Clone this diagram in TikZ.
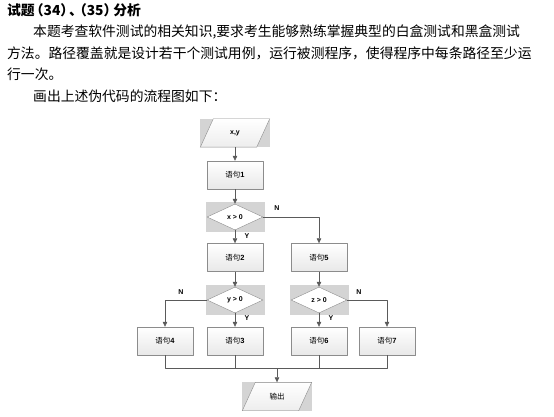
\documentclass[tikz,border=0pt]{standalone}
\usepackage{fontspec}
\setmainfont{Noto Sans CJK SC}
\newfontfamily\labfont{Liberation Sans}
\usetikzlibrary{shapes.geometric,arrows.meta,backgrounds,shadows}
\newcommand{\bnum}[1]{{\labfont\bfseries #1}}
\definecolor{linegray}{HTML}{5A5A5A}
\definecolor{selgray}{HTML}{D4D4D4}
\definecolor{boxline}{HTML}{8C8C8C}
\tikzset{
  stmt/.style={rectangle,draw=boxline,top color=white,bottom color=black!9,
    drop shadow={shadow xshift=0.7pt,shadow yshift=-0.7pt,fill=black!30},
    minimum width=56pt,minimum height=28pt,inner sep=0pt,
    font=\fontsize{7.5pt}{9pt}\selectfont},
  cond/.style={diamond,draw=boxline,fill=white,aspect=2.15,
    minimum width=56pt,minimum height=26pt,inner sep=0pt,
    font=\fontsize{7pt}{8pt}\labfont\bfseries},
  io/.style={rectangle,minimum width=69pt,minimum height=28pt,inner sep=0pt,
    font=\fontsize{7.5pt}{9pt}\selectfont},
  flow/.style={draw=linegray,line width=0.6pt,-{Triangle[length=5pt,width=4.5pt]}},
  link/.style={draw=linegray,line width=0.6pt},
  yn/.style={font=\fontsize{7pt}{8pt}\labfont\bfseries,inner sep=0pt},
  para/.style={anchor=west,inner sep=0pt,font=\fontsize{13.8pt}{16pt}\selectfont}
}
\begin{document}
\begin{tikzpicture}[x=1pt,y=-1pt,line join=round]
\useasboundingbox (0,0) rectangle (554,417);
% text above the chart
\node[para,font=\fontsize{13.8pt}{16pt}\bfseries] (title) at (7,10)
  {试题\kern-5pt（34）\kern-5pt、\kern-5pt\kern-5pt（35）\kern-4pt分析};
\node[para] (p1) at (33,32) {本题考查软件测试的相关知识,要求考生能够熟练掌握典型的白盒测试和黑盒测试};
\node[para] (p2) at (7,53) {方法。路径覆盖就是设计若干个测试用例，运行被测程序，使得程序中每条路径至少运};
\node[para] (p3) at (7,74) {行一次。};
\node[para] (p4) at (33,96) {画出上述伪代码的流程图如下：};
% chart
\node[io,font=\fontsize{7pt}{8pt}\labfont\bfseries] (inp) at (235,133) {x,y};
\node[stmt] (s1) at (235,175) {语句\bnum{1}};
\node[cond] (d1) at (235,217) {x > 0};
\node[stmt] (s2) at (235,257.5) {语句\bnum{2}};
\node[stmt] (s5) at (319,257.5) {语句\bnum{5}};
\node[cond] (d2) at (235,300) {y > 0};
\node[cond] (d3) at (319,300) {z > 0};
\node[stmt] (s4) at (165,341) {语句\bnum{4}};
\node[stmt] (s3) at (235,341) {语句\bnum{3}};
\node[stmt] (s6) at (319,341) {语句\bnum{6}};
\node[stmt] (s7) at (387,341) {语句\bnum{7}};
\node[io] (out) at (277,396.5) {输出};
\coordinate (jl) at (165,368);
\coordinate (jm) at (277,368);
\coordinate (jr) at (387,368);
\begin{scope}[on background layer]
  \foreach \p in {inp,out}{
    \fill[selgray] (\p.north west) rectangle (\p.south east);
    \shade[top color=white,bottom color=black!7,draw=boxline]
      ([xshift=13pt]\p.north west) -- (\p.north east)
      -- ([xshift=-13pt]\p.south east) -- (\p.south west) -- cycle;
  }
  \foreach \d in {d1,d2,d3}
    \fill[selgray] ([shift={(-1pt,1.5pt)}]\d.west|-\d.north)
      rectangle ([shift={(1.5pt,-1.5pt)}]\d.east|-\d.south);
\end{scope}
\draw[flow] (inp) -- (s1);
\draw[flow] (s1) -- (d1);
\draw[flow] (d1) -- (s2);
\draw[flow] (d1.east) -| (s5);
\draw[flow] (s2) -- (d2);
\draw[flow] (s5) -- (d3);
\draw[flow] (d2) -- (s3);
\draw[flow] (d2.west) -| (s4);
\draw[flow] (d3) -- (s6);
\draw[flow] (d3.east) -| (s7);
\draw[link] (s4) -- (jl) -- (jr) -- (s7);
\draw[link] (s3) -- (s3|-jm);
\draw[link] (s6) -- (s6|-jm);
\draw[flow] (jm) -- (out);
\node[yn] (n1) at (277,208) {N};
\node[yn] (y1) at (247,236) {Y};
\node[yn] (n2) at (181,292) {N};
\node[yn] (y2) at (247,318) {Y};
\node[yn] (y3) at (331,318) {Y};
\node[yn] (n3) at (359,292) {N};
\end{tikzpicture}
\end{document}
